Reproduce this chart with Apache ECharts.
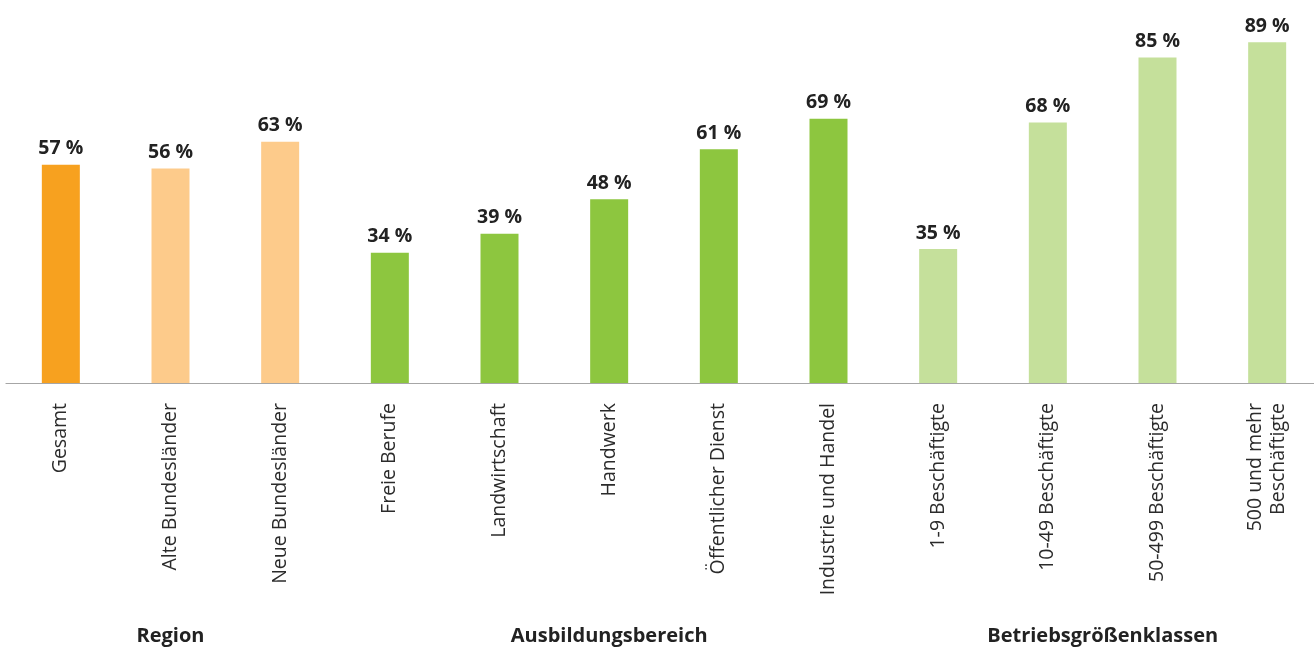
<!DOCTYPE html>
<html>
<head>
<meta charset="utf-8">
<script src="https://cdn.jsdelivr.net/npm/echarts@6/dist/echarts.min.js"></script>
<style>
html,body{margin:0;padding:0;background:#fff;}
#chart{width:1314px;height:648px;}
</style>
</head>
<body>
<div id="chart"></div>
<script>
const categories = ["Gesamt","Alte Bundesländer","Neue Bundesländer","Freie Berufe","Landwirtschaft","Handwerk","Öffentlicher Dienst","Industrie und Handel","1-9 Beschäftigte","10-49 Beschäftigte","50-499 Beschäftigte","500 und mehr\nBeschäftigte"];
const values = [57,56,63,34,39,48,61,69,35,68,85,89];
const barColors = ["#F7A11F","#FDCB8B","#FDCB8B","#8DC63F","#8DC63F","#8DC63F","#8DC63F","#8DC63F","#C5E09B","#C5E09B","#C5E09B","#C5E09B"];
const groups = [
  {name:"Region", from:0, to:2},
  {name:"Ausbildungsbereich", from:3, to:7},
  {name:"Betriebsgrößenklassen", from:8, to:11}
];
const FONT = "'Open Sans', 'Noto Sans', sans-serif";

const chart = echarts.init(document.getElementById('chart'));
const option = {
  animation:false,
  grid:{left:6, right:-8, top:0, bottom:265, containLabel:false, outerBoundsMode:'none'},
  xAxis:{
    type:'category',
    data:categories,
    axisLine:{show:true, lineStyle:{color:'#a6a6a6', width:1.2}},
    axisTick:{show:false},
    axisLabel:{rotate:90, margin:20, color:'#2b2b2b', fontSize:19.5, fontFamily:FONT, interval:0, lineHeight:23}
  },
  yAxis:{type:'value', min:0, max:100, show:false, splitLine:{show:false}},
  series:[{
    type:'bar',
    barWidth:38,
    data:values.map((v,i)=>({value:v, itemStyle:{color:barColors[i]}})),
    label:{show:true, position:'top', distance:6, formatter:p=>p.value+' %', color:'#222', fontSize:19.5, fontWeight:'bold', fontFamily:FONT}
  }]
};
chart.setOption(option);

const graphics = groups.map(g=>{
  const x1 = chart.convertToPixel({xAxisIndex:0}, categories[g.from]);
  const x2 = chart.convertToPixel({xAxisIndex:0}, categories[g.to]);
  return {
    type:'text',
    x:(x1+x2)/2,
    y:636,
    style:{text:g.name, fill:'#222', font:'bold 20px '+FONT, textAlign:'center', textVerticalAlign:'middle'}
  };
});
chart.setOption({graphic:graphics});
</script>
</body>
</html>
